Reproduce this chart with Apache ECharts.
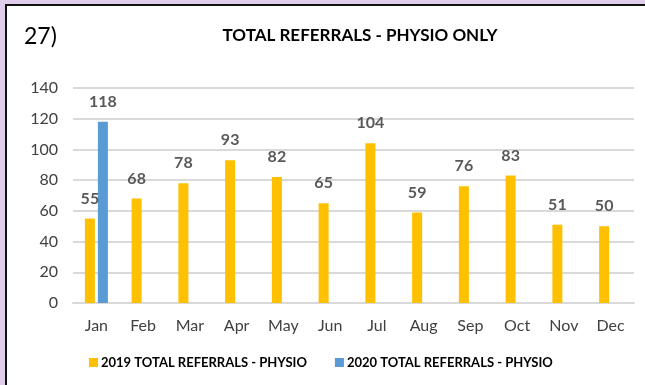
<!DOCTYPE html>
<html>
<head>
<meta charset="utf-8">
<script src="https://cdn.jsdelivr.net/npm/echarts@6/dist/echarts.min.js"></script>
<style>
  html, body { margin: 0; padding: 0; background: #E0CCEB; }
  #frame { position: absolute; left: 5px; top: 4px; width: 660px; height: 400px; background: #fff; border: 2px solid #111; box-sizing: border-box; }
  #chart { position: absolute; left: 0; top: 0; width: 645px; height: 385px; }
</style>
</head>
<body>
<div id="frame"></div>
<div id="chart"></div>
<script>
// Monthly physio referrals
const months = ['Jan', 'Feb', 'Mar', 'Apr', 'May', 'Jun', 'Jul', 'Aug', 'Sep', 'Oct', 'Nov', 'Dec'];
const referrals2019 = [55, 68, 78, 93, 82, 65, 104, 59, 76, 83, 51, 50];
const referrals2020 = [118, null, null, null, null, null, null, null, null, null, null, null];
const yTicks = { min: 0, max: 140, interval: 20 };

const FONT = 'Lato';
const chart = echarts.init(document.getElementById('chart'));
const label = { show: true, position: 'top', distance: 12, fontFamily: FONT, fontWeight: 'bold', fontSize: 16, color: '#595959' };

chart.setOption({
  backgroundColor: 'transparent',
  textStyle: { fontFamily: FONT },
  title: {
    text: 'TOTAL REFERRALS - PHYSIO ONLY',
    left: 355, top: 22, textAlign: 'center',
    textStyle: { fontFamily: FONT, fontWeight: 'bold', fontSize: 17, color: '#000' }
  },
  graphic: [{
    type: 'text', left: 24, top: 25,
    style: { text: '27)', font: '23px ' + FONT, fill: '#000' }
  }],
  legend: {
    left: 84, top: 351, itemWidth: 9, itemHeight: 9, itemGap: 28, icon: 'rect',
    textStyle: { fontFamily: FONT, fontWeight: 'bold', fontSize: 13, color: '#000', padding: [0, 0, 0, -2] }
  },
  grid: { left: 73, right: 11, top: 88, bottom: 82 },
  xAxis: {
    type: 'category', data: months,
    axisLine: { lineStyle: { color: '#D9D9D9', width: 2 } },
    axisTick: { show: false },
    axisLabel: { fontFamily: FONT, fontSize: 16, color: '#404040', margin: 15 }
  },
  yAxis: {
    type: 'value', min: yTicks.min, max: yTicks.max, interval: yTicks.interval,
    axisLine: { show: false }, axisTick: { show: false },
    splitLine: { lineStyle: { color: '#D9D9D9', width: 2 } },
    axisLabel: { fontFamily: FONT, fontSize: 16, color: '#404040', margin: 15 }
  },
  series: [
    { name: '2019 TOTAL REFERRALS - PHYSIO', type: 'bar', data: referrals2019, barWidth: 10, barGap: '30%',
      itemStyle: { color: '#FFC000' }, label: label },
    { name: '2020 TOTAL REFERRALS - PHYSIO', type: 'bar', data: referrals2020, barWidth: 10,
      itemStyle: { color: '#5B9BD5' }, label: label }
  ]
});
</script>
</body>
</html>
